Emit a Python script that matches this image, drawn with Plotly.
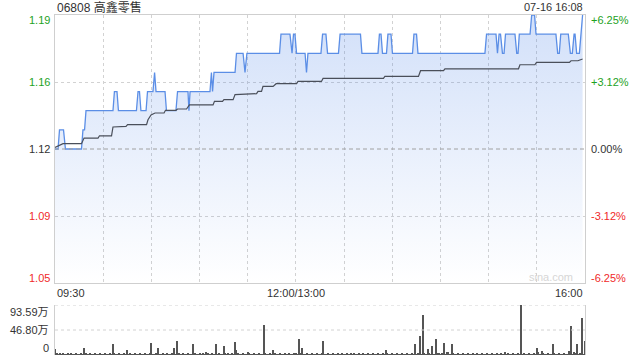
import plotly.graph_objects as go

# ---------------- data ----------------
title_text = "06808 高鑫零售"
stamp_text = "07-16 16:08"
prev_close = 1.12

# price line breakpoints (minutes since 09:30, trading minutes; 0..330)
price_min = [0, 1.9, 2.8, 5.3, 6.5, 16.5, 17.4, 18.4, 19.3, 36.1, 37.0, 38.6, 39.5, 50.7, 51.7, 52.6,
             53.5, 56.7, 57.6, 61.0, 62.0, 62.9, 68.5, 69.4, 75.3, 76.3, 82.8, 83.4, 84.1, 96.5, 97.4,
             98.1, 99.0, 112.1, 113.0, 117.1, 118.3, 119.5, 139.8, 140.7, 146.3, 147.6, 148.5, 149.4,
             150.4, 155.7, 156.6, 157.5, 165.6, 166.6, 168.7, 169.7, 176.5, 177.5, 190.2, 191.1, 201.1,
             202.0, 203.0, 203.9, 206.4, 207.3, 209.2, 210.1, 222.6, 223.5, 225.1, 226.0, 267.7, 268.7,
             274.6, 275.5, 276.5, 277.4, 278.6, 279.6, 280.5, 286.4, 287.5, 288.3, 289.1, 295.8, 296.8,
             298.6, 299.5, 311.9, 313.0, 314.0, 314.9, 319.6, 320.9, 322.1, 323.2, 323.8, 324.8, 326.5,
             328.5]
price_val = [1.12, 1.12, 1.13, 1.13, 1.12, 1.12, 1.13, 1.13, 1.14, 1.14, 1.15, 1.15, 1.14, 1.14, 1.15, 1.15,
             1.14, 1.14, 1.15, 1.15, 1.16, 1.15, 1.15, 1.14, 1.14, 1.15, 1.15, 1.14, 1.15, 1.15, 1.16,
             1.15, 1.16, 1.16, 1.17, 1.17, 1.16, 1.17, 1.17, 1.18, 1.18, 1.17, 1.18, 1.18,
             1.17, 1.17, 1.16, 1.17, 1.17, 1.18, 1.18, 1.17, 1.17, 1.18, 1.18, 1.17, 1.17,
             1.18, 1.18, 1.17, 1.17, 1.18, 1.18, 1.17, 1.17, 1.18, 1.18, 1.17, 1.17, 1.18,
             1.18, 1.17, 1.18, 1.18, 1.17, 1.17, 1.18, 1.18, 1.17, 1.17, 1.18, 1.18, 1.19,
             1.19, 1.18, 1.18, 1.17, 1.17, 1.18, 1.18, 1.17, 1.17, 1.18, 1.18, 1.17, 1.17,
             1.19]

# average price line breakpoints
avg_min = [0, 5.0, 16.5, 18.1, 26.8, 27.7, 35.2, 36.1, 44.2, 45.2, 57.0, 57.9, 59.8, 62.3, 67.9,
           68.8, 75.3, 76.3, 81.9, 82.8, 83.7, 98.4, 99.3, 104.3, 105.2, 110.9, 112.1, 125.5, 126.4,
           128.6, 129.5, 130.5, 135.8, 137.7, 150.4, 151.3, 165.9, 166.9, 204.5, 205.4, 226.3, 227.6,
           241.9, 242.8, 288.6, 289.5, 298.8, 299.8, 320.3, 321.3, 325.6, 328.5]
avg_val = [1.1208, 1.1228, 1.1228, 1.1257, 1.1257, 1.1269, 1.1269, 1.1315, 1.1318, 1.1327, 1.1327,
           1.1353, 1.1378, 1.1388, 1.1388, 1.1402, 1.1402, 1.1409, 1.1409, 1.1419, 1.1430, 1.1430,
           1.1449, 1.1449, 1.1458, 1.1458, 1.1484, 1.1489, 1.1501, 1.1501, 1.1527, 1.1527, 1.1527,
           1.1541, 1.1541, 1.1553, 1.1553, 1.1569, 1.1569, 1.1579, 1.1579, 1.1609, 1.1609, 1.1619,
           1.1619, 1.1640, 1.1640, 1.1652, 1.1652, 1.1661, 1.1661, 1.1670]

# volume per minute (万股), minutes 0..330
volume = [
    11, 2, 1.5, 2, 1, 2, 1.5, 1, 2, 1.5, 2, 1, 1.5, 2, 1, 1.5, 2, 1, 13.7, 2,
    1.5, 1, 2, 1.5, 1, 2, 1.5, 1, 2, 1.5, 1, 2, 1.5, 1, 2, 1.5, 20.6, 2, 1, 1.5,
    2, 1, 1.5, 2, 1, 9.4, 1.5, 2, 1, 1.5, 2, 1, 1.5, 2, 1, 1.5, 2, 1, 1.5, 2,
    23, 1.5, 1, 2, 13, 1.5, 1, 2, 1.5, 1, 2, 1.5, 1, 2, 13, 1.5, 26.8, 2, 1, 1.5,
    2, 1, 1.5, 2, 1, 1.5, 20.6, 2, 1, 1.5, 2, 1, 3, 1.5, 5.6, 2, 1, 1.5, 2, 1,
    20.6, 1.5, 2, 1, 1.5, 17.4, 2, 1, 4, 1.5, 2, 1, 25, 9, 2, 1.5, 1, 2, 1.5, 1,
    5, 2, 1.5, 1, 2, 1.5, 1, 2, 1.5, 1, 56.7, 2, 1.5, 1, 2, 1.5, 10, 2, 1, 1.5,
    2, 1, 1.5, 2, 1, 1.5, 2, 1, 1.5, 2, 4, 1.5, 30.5, 2, 13.7, 1.5, 1, 2, 1.5, 1,
    2, 1.5, 1, 2, 1.5, 1, 2, 26.8, 1.5, 1, 2, 1.5, 1, 2, 1.5, 1, 2, 1.5, 1, 2,
    1.5, 1, 2, 1.5, 3, 1, 2, 1.5, 1, 2, 1.5, 1, 2, 1.5, 1, 2, 1.5, 1, 2, 1.5,
    1, 2, 1.5, 1, 2, 1.5, 10, 2, 1, 1.5, 2, 1, 1.5, 2, 1, 1.5, 2, 1, 1.5, 2,
    1, 1.5, 2, 1, 20.6, 1.5, 2, 36, 1.5, 75.5, 4, 1.5, 12, 2, 1, 17.4, 1.5, 30.5, 2, 4,
    1.5, 2, 23, 1.5, 6, 5, 1.5, 20.6, 2, 1, 1.5, 2, 1, 1.5, 2, 1, 1.5, 2, 1, 1.5,
    2, 1, 1.5, 2, 1, 1.5, 2, 1, 1.5, 2, 1, 1.5, 2, 1, 1.5, 2, 1, 1.5, 2, 1,
    5, 1.5, 2, 1, 1.5, 2, 1, 1.5, 2, 1, 93.59, 1.5, 2, 1, 1.5, 2, 1, 1.5, 2, 1,
    13.7, 5, 1.5, 7, 2, 1, 1.5, 2, 1, 1.5, 20.6, 2, 1, 1.5, 2, 1, 1.5, 2, 1, 1.5,
    7, 55, 1.5, 6, 2, 20.6, 1.5, 2, 70, 1.5, 26.8]
vol_min = list(range(len(volume)))

# axis labels
price_ticks = [1.19, 1.155, 1.12, 1.085, 1.05]
price_tick_text = ["1.19", "1.16", "1.12", "1.09", "1.05"]
pct_tick_text = ["+6.25%", "+3.12%", "0.00%", "-3.12%", "-6.25%"]
time_ticks = [0, 150, 330]
time_tick_text = ["09:30", "12:00/13:00", "16:00"]
vol_ticks = [93.59, 46.80, 0]
vol_tick_text = ["93.59万", "46.80万", "0"]

# ---------------- figure ----------------
W, H = 640, 360
L, R, T, B = 55, 585, 15, 355
MAIN_BOTTOM = 283
VOL_TOP = 305


def xp(px):
    return (px - L) / (R - L)


def yp(py):
    return (B - py) / (B - T)


FONT = "Arial, Liberation Sans, Noto Sans CJK SC, sans-serif"
GREEN = "#1ea21e"
RED = "#f02a2a"
DARK = "#333333"
GRID = "#d2d2d2"
BORDER = "#cfcfcf"

fig = go.Figure()

fig.add_trace(go.Scatter(
    x=price_min, y=price_val, mode="lines",
    line=dict(color="#5b8ee6", width=1.3),
    fill="tozeroy",
    fillgradient=dict(type="vertical", start=1.05, stop=1.19,
                      colorscale=[[0, "rgba(60,120,230,0.0)"], [1, "rgba(60,120,230,0.23)"]]),
    hoverinfo="skip", xaxis="x", yaxis="y"))

fig.add_trace(go.Scatter(
    x=avg_min, y=avg_val, mode="lines",
    line=dict(color="#4a4f5a", width=1.2),
    hoverinfo="skip", xaxis="x", yaxis="y"))

fig.add_trace(go.Bar(
    x=vol_min, y=volume, width=0.62, marker=dict(color="#555555", line=dict(width=0)),
    hoverinfo="skip", xaxis="x2", yaxis="y2"))

main_dom = [yp(MAIN_BOTTOM), 1]
vol_dom = [0, yp(VOL_TOP)]

fig.update_layout(
    width=W, height=H,
    margin=dict(l=L, r=W - R, t=T, b=H - B, pad=0),
    paper_bgcolor="white", plot_bgcolor="white",
    showlegend=False, bargap=0,
    font=dict(family=FONT, size=11, color=DARK),
    xaxis=dict(domain=[0, 1], range=[0, 330], showticklabels=False, ticks="",
               tickvals=list(range(30, 330, 30)), showgrid=True, gridcolor=GRID,
               griddash="dot", gridwidth=1, zeroline=False,
               showline=True, mirror=True, linecolor=BORDER, linewidth=1, anchor="y"),
    yaxis=dict(domain=main_dom, range=[1.05, 1.19], showticklabels=False, ticks="",
               tickvals=[1.085, 1.155], showgrid=True, gridcolor=GRID, griddash="dot",
               zeroline=False, showline=True, mirror=True, linecolor=BORDER, linewidth=1,
               anchor="x"),
    xaxis2=dict(domain=[0, 1], range=[0, 330], showticklabels=False, ticks="",
                showgrid=False, zeroline=False, anchor="y2",
                showline=False),
    yaxis2=dict(domain=vol_dom, range=[0, 93.59], showticklabels=False, ticks="",
                showgrid=False, zeroline=False, showline=True, mirror=True,
                linecolor=BORDER, linewidth=1, anchor="x2"),
)

# horizontal reference lines
fig.add_shape(type="line", xref="x", yref="y", x0=0, x1=330, y0=prev_close, y1=prev_close,
              line=dict(color="#a0a0a0", width=1, dash="4px,3px"))
for v in [93.59, 46.80]:
    fig.add_shape(type="line", xref="x2", yref="y2", x0=0, x1=330, y0=v, y1=v,
                  line=dict(color=GRID, width=1, dash="dot"))

ann = []
ann.append(dict(text=title_text, x=xp(55), y=yp(7), xanchor="left", yanchor="middle",
                font=dict(size=12, color=DARK)))
ann.append(dict(text=stamp_text, x=xp(585), y=yp(7), xanchor="right", yanchor="middle",
                font=dict(size=11, color=DARK)))

shift = {0: 5, 4: -5}
for i, (v, t, p) in enumerate(zip(price_ticks, price_tick_text, pct_tick_text)):
    col = GREEN if v > prev_close else (RED if v < prev_close else DARK)
    py = (1.19 - v) / 0.14 * (MAIN_BOTTOM - T) + T + shift.get(i, 0)
    ann.append(dict(text=t, x=xp(52), y=yp(py), xanchor="right", yanchor="middle",
                    font=dict(color=col, size=11)))
    ann.append(dict(text=p, x=xp(589), y=yp(py), xanchor="left", yanchor="middle",
                    font=dict(color=col, size=11)))

anchors = ["left", "center", "right"]
for v, t, a in zip(time_ticks, time_tick_text, anchors):
    ann.append(dict(text=t, x=v / 330, y=yp(293), xanchor=a, yanchor="middle",
                    font=dict(size=11, color=DARK)))

vshift = {0: 7, 2: -7}
for i, (v, t) in enumerate(zip(vol_ticks, vol_tick_text)):
    py = VOL_TOP + (93.59 - v) / 93.59 * (B - VOL_TOP) + vshift.get(i, 0)
    ann.append(dict(text=t, x=xp(51), y=yp(py), xanchor="right", yanchor="middle",
                    font=dict(size=11, color=DARK)))

ann.append(dict(text="sina.com", x=xp(575), y=yp(277), xanchor="right", yanchor="middle",
                font=dict(size=11, color="#d6d6d6")))

for a in ann:
    a.update(xref="paper", yref="paper", showarrow=False)
fig.update_layout(annotations=ann)

fig.write_html("out.html")
